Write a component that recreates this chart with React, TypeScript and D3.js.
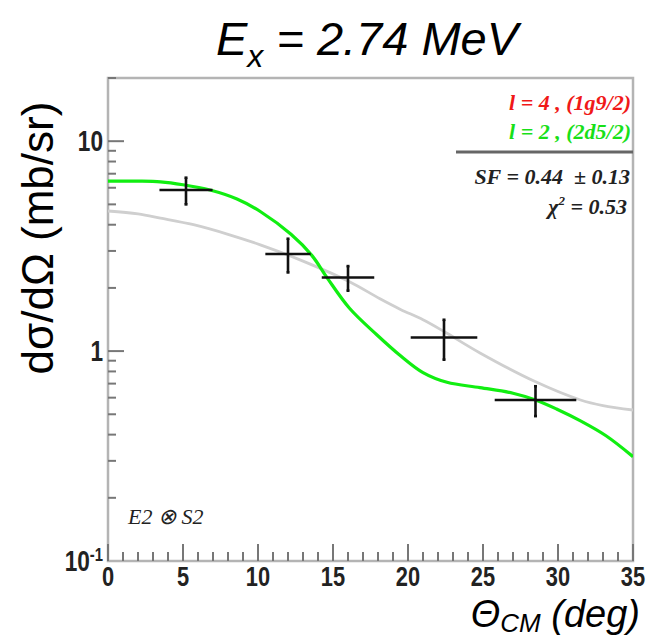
import React from "react";
import * as d3 from "d3";

// Measured angular distribution (centre-of-mass angle in degrees, mb/sr)
const thetaDeg = [5.2, 12.0, 16.0, 22.4, 28.5];
const thetaErr = [1.77, 1.51, 1.75, 2.22, 2.72];
const xsec = [5.85, 2.9, 2.24, 1.16, 0.585];
const xsecErr = [0.85, 0.53, 0.3, 0.25, 0.095];

// l = 2 (2d5/2) DWBA curve
const greenTheta = [0, 2, 3.5, 5, 6.8, 8.6, 10.2, 12.2, 13.6, 14.6, 16.1, 17.9, 19.5, 21, 22.6, 24.8, 27, 28.5, 29.9, 31.5, 33.2, 35];
const greenXsec = [6.45, 6.45, 6.4, 6.2, 5.85, 5.3, 4.6, 3.6, 2.85, 2.24, 1.6, 1.2, 0.95, 0.79, 0.71, 0.67, 0.63, 0.585, 0.53, 0.465, 0.395, 0.314];

// l = 4 (1g9/2) DWBA curve
const grayTheta = [0, 2, 3.5, 5.7, 8, 10.2, 12.8, 16.1, 18.1, 19.5, 21, 22.4, 24.8, 28.4, 31.5, 33, 35];
const grayXsec = [4.65, 4.5, 4.3, 4.0, 3.6, 3.2, 2.72, 2.14, 1.78, 1.58, 1.41, 1.24, 0.98, 0.72, 0.585, 0.55, 0.524];

const xTicks = [0, 5, 10, 15, 20, 25, 30, 35];
const yMajor = [10, 1];

const W = 648;
const H = 638;
const left = 108;
const right = 633;
const top = 78;
const bottom = 561;

export default function App() {
  const x = d3.scaleLinear().domain([0, 35]).range([left, right]);
  const y = d3.scaleLog().domain([0.1, 20]).range([bottom, top]);

  const line = d3
    .line<[number, number]>()
    .x((d) => x(d[0]))
    .y((d) => y(d[1]))
    .curve(d3.curveCatmullRom.alpha(0.5));

  const green = line(greenTheta.map((t, i) => [t, greenXsec[i]]));
  const gray = line(grayTheta.map((t, i) => [t, grayXsec[i]]));

  const minorY: number[] = [];
  for (const dec of [0.1, 1, 10]) {
    for (let k = 2; k <= 9; k++) {
      const v = dec * k;
      if (v <= 20) minorY.push(v);
    }
  }
  const minorX = d3.range(0, 36);

  const tickFont = "'Liberation Sans', Arial, sans-serif";
  const serif = "'Liberation Serif', 'Times New Roman', serif";

  return (
    <svg
      width={W}
      height={H}
      style={{ position: "absolute", left: 0, top: 0, background: "#fff" }}
    >
      {/* title */}
      <text x={216} y={55} fontFamily={tickFont} fontStyle="italic" fontSize={47} fill="#000">
        E<tspan fontSize={32} dy={12}>x</tspan>
        <tspan dy={-12}> = 2.74 MeV</tspan>
      </text>

      {/* y title */}
      <text
        transform={`translate(53,238) rotate(-90)`}
        textAnchor="middle"
        fontFamily={tickFont}
        fontSize={44}
        fill="#000"
      >
        dσ/dΩ (mb/sr)
      </text>

      {/* x title */}
      <text x={640} y={627} textAnchor="end" fontFamily={tickFont} fontStyle="italic" fontSize={38} fill="#000">
        Θ<tspan fontSize={26} dy={5}>CM</tspan>
        <tspan dy={-5}> (deg)</tspan>
      </text>

      {/* frame */}
      <rect x={left} y={top} width={right - left} height={bottom - top} fill="none" stroke="#b4b4b4" strokeWidth={2.5} />

      {/* y ticks */}
      {minorY.map((v) => (
        <line key={`my${v}`} x1={left} x2={left + 8} y1={y(v)} y2={y(v)} stroke="#777" strokeWidth={2} />
      ))}
      {yMajor.map((v) => (
        <line key={`Y${v}`} x1={left} x2={left + 16} y1={y(v)} y2={y(v)} stroke="#777" strokeWidth={2} />
      ))}
      {yMajor.map((v) => (
        <text
          key={`YL${v}`}
          transform={`translate(${left - 5},${y(v) + 10}) scale(0.78,1)`}
          textAnchor="end"
          fontFamily={tickFont}
          fontWeight="bold"
          fontSize={29}
          fill="#222"
        >
          {v}
        </text>
      ))}
      <text
        transform={`translate(${left - 5},${bottom + 10}) scale(0.78,1)`}
        textAnchor="end"
        fontFamily={tickFont}
        fontWeight="bold"
        fontSize={29}
        fill="#222"
      >
        10<tspan fontSize={19} dy={-10}>-1</tspan>
      </text>

      {/* x ticks */}
      {minorX.map((v) => (
        <line
          key={`mx${v}`}
          x1={x(v)}
          x2={x(v)}
          y1={bottom}
          y2={bottom - (v % 5 === 0 ? 17 : 9)}
          stroke="#777"
          strokeWidth={2}
        />
      ))}
      {xTicks.map((v) => (
        <text
          key={`XL${v}`}
          transform={`translate(${x(v)},${bottom + 25}) scale(0.78,1)`}
          textAnchor="middle"
          fontFamily={tickFont}
          fontWeight="bold"
          fontSize={28}
          fill="#222"
        >
          {v}
        </text>
      ))}

      {/* curves */}
      <defs>
        <clipPath id="plotClip">
          <rect x={left} y={top} width={right - left} height={bottom - top} />
        </clipPath>
      </defs>
      <g clipPath="url(#plotClip)">
        <path d={gray ?? ""} fill="none" stroke="#cfcfcf" strokeWidth={2.8} />
        <path d={green ?? ""} fill="none" stroke="#11ee11" strokeWidth={3.2} />
      </g>

      {/* data with error bars */}
      {thetaDeg.map((t, i) => {
        const cx = x(t);
        const cy = y(xsec[i]);
        const x0 = x(t - thetaErr[i]);
        const x1 = x(t + thetaErr[i]);
        const y0 = y(xsec[i] + xsecErr[i]);
        const y1 = y(xsec[i] - xsecErr[i]);
        return (
          <g key={`p${i}`} stroke="#111" strokeWidth={2.6}>
            <line x1={x0} x2={x1} y1={cy} y2={cy} />
            <line x1={cx} x2={cx} y1={y0} y2={y1} />
            <line x1={cx - 1.5} x2={cx + 1.5} y1={y0} y2={y0} />
            <line x1={cx - 1.5} x2={cx + 1.5} y1={y1} y2={y1} />
          </g>
        );
      })}

      {/* legend */}
      <g fontFamily={serif} fontWeight="bold" fontStyle="italic" fontSize={22} textAnchor="end">
        <text x={631} y={110} fill="#f01818">l = 4 , (1g9/2)</text>
        <text x={631} y={139} fill="#18e018">l = 2 , (2d5/2)</text>
        <line x1={456} x2={right} y1={152} y2={152} stroke="#666" strokeWidth={3} />
        <text x={630} y={184} fill="#222" style={{ whiteSpace: "pre" }}>SF = 0.44  ± 0.13</text>
        <text x={627} y={214} fill="#222">
          χ<tspan fontSize={13} dy={-9}>2</tspan>
          <tspan dy={9}> = 0.53</tspan>
        </text>
      </g>

      <text x={128} y={524} fontFamily={serif} fontStyle="italic" fontSize={22} fill="#222">
        E2 ⊗ S2
      </text>
    </svg>
  );
}
